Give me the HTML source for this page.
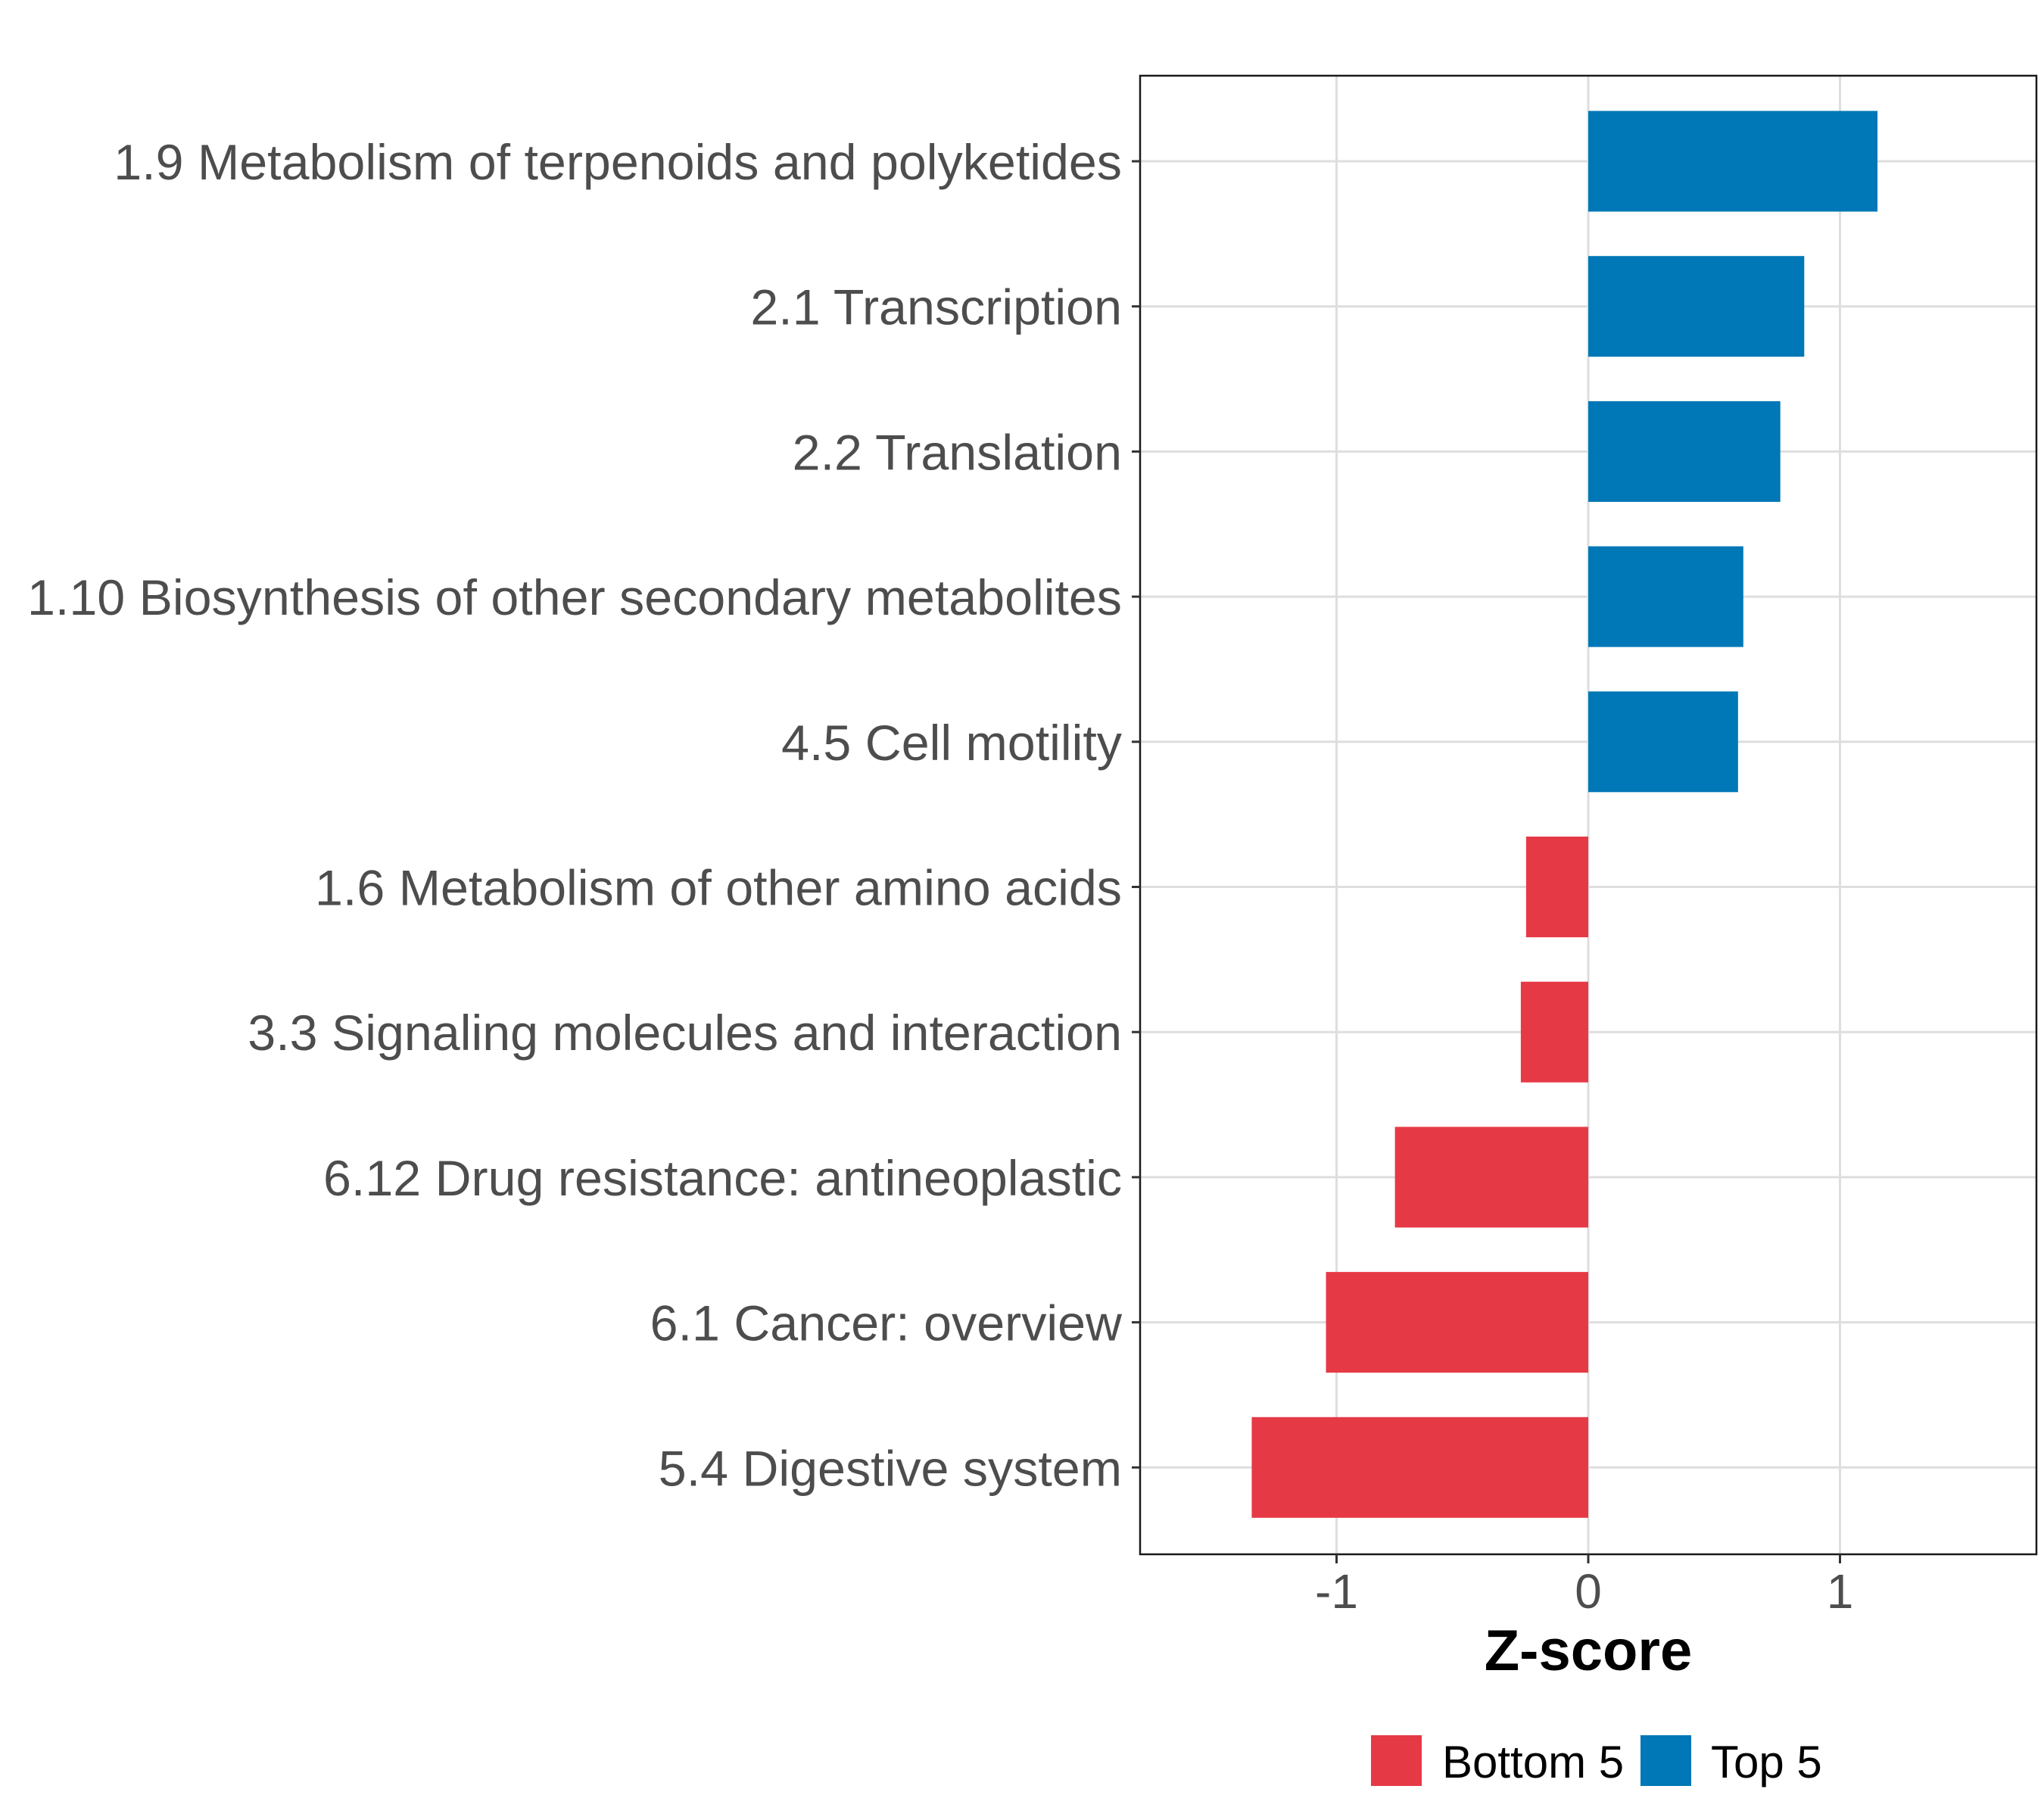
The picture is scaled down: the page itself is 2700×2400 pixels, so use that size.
<!DOCTYPE html>
<html><head><meta charset="utf-8"><style>
html,body{margin:0;padding:0;background:#fff;}
svg{display:block;}
</style></head><body>
<svg id="chart" width="2700" height="2400" xmlns="http://www.w3.org/2000/svg" font-family="Liberation Sans, sans-serif"></svg>
<script>
const categories = ["1.9 Metabolism of terpenoids and polyketides","2.1 Transcription","2.2 Translation","1.10 Biosynthesis of other secondary metabolites","4.5 Cell motility","1.6 Metabolism of other amino acids","3.3 Signaling molecules and interaction","6.12 Drug resistance: antineoplastic","6.1 Cancer: overview","5.4 Digestive system"];
const zscores = [1.149, 0.858, 0.763, 0.616, 0.595, -0.247, -0.268, -0.768, -1.042, -1.337];
const groups = ["Top 5","Top 5","Top 5","Top 5","Top 5","Bottom 5","Bottom 5","Bottom 5","Bottom 5","Bottom 5"];
const xTicks = [-1, 0, 1];
const xTickLabels = ["-1","0","1"];
const legendLabels = ["Bottom 5","Top 5"];

const NS = "http://www.w3.org/2000/svg";
const svg = document.getElementById("chart");
const L = 1506, R = 2690, T = 100, B = 2053;
const x0 = 2098, unit = 332.5;
const xs = v => x0 + v * unit;
const row0 = 213, step = 191.7, barH = 133;
const ys = i => row0 + i * step;
const colors = {"Top 5":"#0077b6","Bottom 5":"#e63946"};

function mk(tag, attrs, parent){
  const el = document.createElementNS(NS, tag);
  for (const k in attrs) el.setAttribute(k, attrs[k]);
  (parent || svg).appendChild(el);
  return el;
}

xTicks.forEach((t, i) => {
  const g = mk("line", {x1: xs(t), x2: xs(t), y1: T, y2: B, stroke: "#dedede", "stroke-width": 3});
  
  
});
categories.forEach((c, i) => {
  const g = mk("line", {x1: L, x2: R, y1: ys(i), y2: ys(i), stroke: "#dedede", "stroke-width": 3});
  
  
});

zscores.forEach((v, i) => {
  const a = xs(0), b = xs(v);
  const r = mk("rect", {x: Math.min(a, b), y: ys(i) - barH / 2, width: Math.abs(b - a), height: barH, fill: colors[groups[i]]});
  
  
});

const border = mk("rect", {x: L, y: T, width: R - L, height: B - T, fill: "none", stroke: "#1a1a1a", "stroke-width": 2.5});



const yLabels = [];
categories.forEach((c, i) => {
  const tk = mk("line", {x1: L - 11, x2: L, y1: ys(i), y2: ys(i), stroke: "#333", "stroke-width": 3});
  
  
  const t = mk("text", {x: 1482, y: ys(i) + 24, "text-anchor": "end", "font-size": 66, fill: "#4d4d4d"});
  t.textContent = c;
  
  
  yLabels.push(t);
});
// match reference horizontal text compression (longest label ~1446px wide)
let maxW = 0;
yLabels.forEach(t => { maxW = Math.max(maxW, t.getComputedTextLength()); });
const squeeze = maxW > 0 ? 1446 / maxW : 1;
yLabels.forEach(t => {
  const w = t.getComputedTextLength();
  t.setAttribute("textLength", (w * squeeze).toFixed(1));
  t.setAttribute("lengthAdjust", "spacingAndGlyphs");
});

xTicks.forEach((v, i) => {
  const tk = mk("line", {x1: xs(v), x2: xs(v), y1: B, y2: B + 12, stroke: "#333", "stroke-width": 3});
  
  
  const t = mk("text", {x: xs(v), y: 2124, "text-anchor": "middle", "font-size": 64, fill: "#4d4d4d"});
  t.textContent = xTickLabels[i];
  
  
});

const xt = mk("text", {x: xs(0), y: 2206, "text-anchor": "middle", "font-size": 76, "font-weight": "bold", fill: "#000"});
xt.textContent = "Z-score";



const legendKeyX = [1811, 2167];
const legendTextX = [1905, 2260];
legendLabels.forEach((lab, i) => {
  const k = mk("rect", {x: legendKeyX[i], y: 2292, width: 67, height: 67, fill: colors[lab]});
  
  
  const t = mk("text", {x: legendTextX[i], y: 2348, "font-size": 60, fill: "#000"});
  t.textContent = lab;
  
  
});
</script>
</body></html>
